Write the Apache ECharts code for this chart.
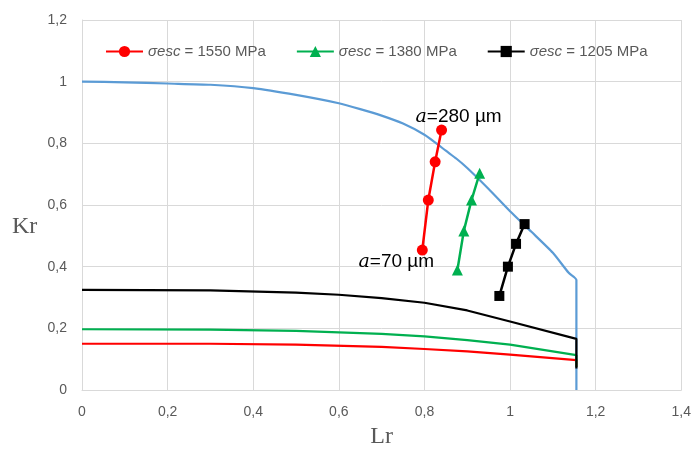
<!DOCTYPE html>
<html>
<head>
<meta charset="utf-8">
<script src="https://cdn.jsdelivr.net/npm/echarts@6/dist/echarts.min.js"></script>
<style>html,body{margin:0;padding:0;background:#fff}#c{width:694px;height:455px}</style>
</head>
<body>
<div id="c"></div>
<script>
// ---- data ----
const xTicks = [0, 0.2, 0.4, 0.6, 0.8, 1, 1.2, 1.4];
const yTicks = [0, 0.2, 0.4, 0.6, 0.8, 1, 1.2];

// FAD (failure assessment diagram) curve
const fadLr = [0, 0.1, 0.2, 0.3, 0.4, 0.5, 0.6, 0.65, 0.7, 0.75, 0.8, 0.825, 0.85, 0.875, 0.9, 0.95, 1.0, 1.05, 1.1, 1.137, 1.155, 1.155];
const fadKr = [1.0, 0.998, 0.994, 0.99, 0.979, 0.957, 0.93, 0.911, 0.89, 0.864, 0.828, 0.803, 0.776, 0.75, 0.72, 0.652, 0.58, 0.513, 0.445, 0.38, 0.357, 0.0];

// lower curves
const lowRedLr = [0, 0.3, 0.5, 0.7, 0.8, 0.9, 1.0, 1.155, 1.155];
const lowRedKr = [0.15, 0.15, 0.147, 0.14, 0.133, 0.125, 0.115, 0.097, 0.075];
const lowGreenLr = [0, 0.3, 0.5, 0.7, 0.8, 0.9, 1.0, 1.155, 1.155];
const lowGreenKr = [0.197, 0.196, 0.192, 0.182, 0.174, 0.162, 0.147, 0.113, 0.075];
const lowBlackLr = [0, 0.3, 0.5, 0.6, 0.7, 0.8, 0.9, 1.0, 1.155, 1.155];
const lowBlackKr = [0.325, 0.323, 0.316, 0.309, 0.298, 0.283, 0.258, 0.222, 0.166, 0.07];

// assessment points
const seriesNames = ['σesc = 1550 MPa', 'σesc = 1380 MPa', 'σesc = 1205 MPa'];
const redLr = [0.795, 0.809, 0.825, 0.840];
const redKr = [0.454, 0.616, 0.740, 0.843];
const greenLr = [0.877, 0.892, 0.910, 0.929];
const greenKr = [0.389, 0.516, 0.616, 0.703];
const blackLr = [0.975, 0.995, 1.014, 1.034];
const blackKr = [0.305, 0.400, 0.474, 0.538];
const annotations = ['a=70 µm', 'a=280 µm'];
const axisTitles = ['Lr', 'Kr'];

// ---- build ----
const zip = (a, b) => a.map((v, i) => [v, b[i]]);
const FONT = '"Liberation Sans", Arial, sans-serif';
const SERIF = '"Liberation Serif", "Times New Roman", serif';
const annRich = {
  a: { fontFamily: '"DejaVu Serif", serif', fontStyle: 'italic', fontSize: 19, color: '#000' },
  t: { fontFamily: FONT, fontSize: 19, color: '#000' }
};
const annText = s => '{a|' + s[0] + '}{t|' + s.slice(1) + '}';

const redData = zip(redLr, redKr).map((p, i) => {
  if (i === 0) return { value: p, label: { show: true, position: 'inside', offset: [-26, 12], formatter: annText(annotations[0]), rich: annRich } };
  if (i === redLr.length - 1) return { value: p, label: { show: true, position: 'inside', offset: [17, -13], formatter: annText(annotations[1]), rich: annRich } };
  return { value: p };
});

const chart = echarts.init(document.getElementById('c'), null, { renderer: 'canvas' });
chart.setOption({
  animation: false,
  backgroundColor: '#fff',
  grid: { left: 82, right: 11, top: 20, bottom: 65, containLabel: false },
  graphic: [
    { type: 'text', left: 12, top: 215, silent: true,
      style: { text: axisTitles[1], fontFamily: SERIF, fontSize: 24, fill: '#595959' } }
  ],
  legend: {
    data: seriesNames,
    left: 100, top: 39,
    itemWidth: 37, itemHeight: 14, itemGap: 30,
    formatter: n => '{i|' + n.slice(0, 4) + '}{n|' + n.slice(4) + '}',
    textStyle: {
      color: '#595959', fontFamily: FONT, fontSize: 15,
      rich: {
        i: { fontStyle: 'italic', fontFamily: FONT, fontSize: 15, color: '#595959' },
        n: { fontFamily: FONT, fontSize: 15, color: '#595959' }
      }
    }
  },
  xAxis: {
    type: 'value', min: xTicks[0], max: xTicks[xTicks.length - 1], interval: 0.2,
    name: axisTitles[0], nameLocation: 'middle', nameGap: 35,
    nameTextStyle: { fontFamily: SERIF, fontSize: 24, color: '#595959' },
    axisLine: { show: true, lineStyle: { color: '#D9D9D9', width: 1 } },
    axisTick: { show: false },
    splitLine: { show: true, lineStyle: { color: '#D9D9D9', width: 1 } },
    axisLabel: { color: '#595959', fontFamily: FONT, fontSize: 14, margin: 15,
      formatter: v => String(+v.toFixed(1)).replace('.', ',') }
  },
  yAxis: {
    type: 'value', min: yTicks[0], max: yTicks[yTicks.length - 1], interval: 0.2,
    axisLine: { show: true, lineStyle: { color: '#D9D9D9', width: 1 } },
    axisTick: { show: false },
    splitLine: { show: true, lineStyle: { color: '#D9D9D9', width: 1 } },
    axisLabel: { color: '#595959', fontFamily: FONT, fontSize: 14, margin: 15,
      formatter: v => String(+v.toFixed(1)).replace('.', ',') }
  },
  series: [
    { type: 'line', name: 'FAD', data: zip(fadLr, fadKr), showSymbol: false, symbol: 'none', smooth: 0.2,
      lineStyle: { color: '#5B9BD5', width: 2.2 }, z: 2 },
    { type: 'line', name: 'lowRed', data: zip(lowRedLr, lowRedKr), symbol: 'none',
      lineStyle: { color: '#FF0000', width: 2.2 }, z: 2 },
    { type: 'line', name: 'lowGreen', data: zip(lowGreenLr, lowGreenKr), symbol: 'none',
      lineStyle: { color: '#00B050', width: 2.2 }, z: 2 },
    { type: 'line', name: 'lowBlack', data: zip(lowBlackLr, lowBlackKr), symbol: 'none',
      lineStyle: { color: '#000000', width: 2.2 }, z: 3 },
    { type: 'line', name: seriesNames[0], data: redData, symbol: 'circle', symbolSize: 11,
      itemStyle: { color: '#FF0000' }, lineStyle: { color: '#FF0000', width: 2.5 }, z: 5 },
    { type: 'line', name: seriesNames[1], data: zip(greenLr, greenKr), symbol: 'triangle', symbolSize: 11,
      itemStyle: { color: '#00B050' }, lineStyle: { color: '#00B050', width: 2.5 }, z: 5 },
    { type: 'line', name: seriesNames[2], data: zip(blackLr, blackKr), symbol: 'rect', symbolSize: 10,
      itemStyle: { color: '#000000' }, lineStyle: { color: '#000000', width: 2.5 }, z: 5 }
  ]
});
</script>
</body>
</html>
